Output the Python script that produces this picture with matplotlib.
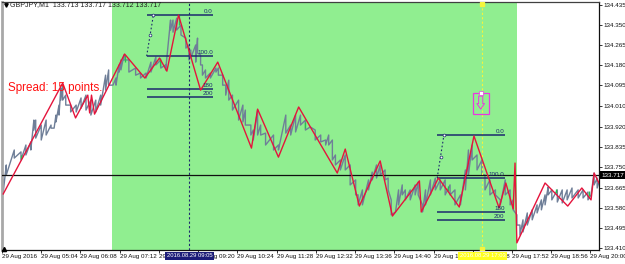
import numpy as np
import matplotlib
matplotlib.use("Agg")
import matplotlib.pyplot as plt
from matplotlib.patches import Rectangle

plt.rcParams['font.family'] = ['Liberation Sans', 'DejaVu Sans']

# Time is minutes after midnight on 29 Aug 2016
bar_minutes = [242, 247, 260, 271, 279, 287, 292, 295, 304, 312, 320, 325, 328, 333, 336, 339, 344, 352, 361, 369,
               377, 385, 393, 401, 409, 414, 421, 426, 431, 434, 439, 447, 458, 466, 475, 483, 491, 499, 507, 515,
               519, 525, 532, 540, 545, 548, 556, 559, 564, 567, 572, 580, 589, 593, 600, 605, 610, 616, 626, 633,
               637, 646, 650, 657, 662, 670, 683, 691, 703, 711, 719, 727, 735, 743, 751, 760, 768, 773, 779, 784,
               792, 800, 808, 817, 821, 828, 838, 844, 851, 857, 865, 870, 875, 882, 887, 893, 898, 906, 914, 919,
               926, 931, 939, 947, 955, 963, 971, 979, 988, 996, 1001, 1007, 1015, 1023, 1028, 1036, 1045, 1053, 1061, 1069,
               1074, 1080, 1085, 1090, 1097, 1105, 1113, 1120, 1126, 1131, 1137, 1146, 1154, 1162, 1170, 1180, 1188, 1196, 1201, 1206,
               1211, 1214]
bar_high = [133.697, 133.760, 133.823, 133.815, 133.844, 133.857, 133.949, 133.949, 133.928, 133.949, 133.928, 133.915, 133.970, 134.012, 134.084, 134.096, 134.054, 134.012, 134.012, 134.042,
            134.054, 134.033, 134.033, 134.054, 134.138, 134.160, 134.096, 134.126, 134.181, 134.202, 134.223, 134.202, 134.168, 134.147, 134.147, 134.193, 134.214, 134.202, 134.181, 134.370,
            134.370, 134.378, 134.349, 134.294, 134.265, 134.244, 134.265, 134.294, 134.223, 134.181, 134.160, 134.147, 134.168, 134.168, 134.138, 134.096, 134.117, 134.054, 134.033, 134.012,
            133.991, 133.928, 133.907, 133.991, 133.928, 133.894, 133.886, 133.844, 133.970, 133.928, 133.970, 133.970, 133.949, 133.920, 133.907, 133.886, 133.865, 133.886, 133.865, 133.802,
            133.781, 133.802, 133.760, 133.697, 133.634, 133.655, 133.697, 133.730, 133.760, 133.760, 133.739, 133.705, 133.613, 133.562, 133.655, 133.676, 133.655, 133.655, 133.676, 133.688,
            133.592, 133.655, 133.697, 133.705, 133.697, 133.697, 133.676, 133.655, 133.634, 133.739, 133.823, 133.844, 133.802, 133.781, 133.718, 133.697, 133.655, 133.613, 133.697, 133.655,
            133.613, 133.550, 133.507, 133.529, 133.558, 133.571, 133.592, 133.613, 133.634, 133.667, 133.655, 133.655, 133.655, 133.655, 133.663, 133.655, 133.655, 133.646, 133.634, 133.726,
            133.705, 133.688]
bar_low = [133.646, 133.718, 133.789, 133.781, 133.802, 133.823, 133.907, 133.873, 133.865, 133.886, 133.915, 133.915, 133.941, 133.970, 134.033, 134.033, 134.012, 133.983, 133.983, 133.999,
           133.991, 133.970, 133.983, 134.012, 134.075, 134.096, 134.096, 134.096, 134.151, 134.160, 134.202, 134.151, 134.138, 134.126, 134.126, 134.151, 134.181, 134.168, 134.160, 134.328,
           134.319, 134.328, 134.307, 134.252, 134.202, 134.210, 134.193, 134.231, 134.181, 134.138, 134.126, 134.126, 134.151, 134.138, 134.096, 134.054, 134.033, 133.991, 133.949, 133.941,
           133.928, 133.886, 133.865, 133.886, 133.886, 133.844, 133.823, 133.823, 133.894, 133.886, 133.899, 133.928, 133.907, 133.920, 133.865, 133.857, 133.844, 133.844, 133.781, 133.760,
           133.739, 133.739, 133.676, 133.634, 133.592, 133.592, 133.655, 133.697, 133.705, 133.718, 133.697, 133.655, 133.550, 133.562, 133.592, 133.634, 133.613, 133.613, 133.634, 133.634,
           133.562, 133.592, 133.634, 133.655, 133.655, 133.634, 133.634, 133.592, 133.592, 133.655, 133.718, 133.781, 133.739, 133.718, 133.655, 133.634, 133.634, 133.592, 133.634, 133.592,
           133.571, 133.507, 133.465, 133.478, 133.507, 133.529, 133.558, 133.571, 133.592, 133.634, 133.613, 133.604, 133.600, 133.613, 133.621, 133.621, 133.621, 133.613, 133.634, 133.676,
           133.663, 133.688]

zigzag_minutes = [242, 339, 360, 380, 383, 386, 391, 440, 473, 497, 509, 528, 564, 592, 647, 657, 691, 724, 787, 800,
                  823, 857, 877, 921, 924, 952, 986, 1010, 1051, 1062, 1074, 1077, 1080, 1126, 1163, 1186, 1201, 1206, 1214]
zigzag_price = [133.638, 134.105, 133.958, 134.054, 133.979, 134.054, 133.974, 134.227, 134.126, 134.210, 134.155, 134.391, 134.075, 134.193, 133.831, 133.995, 133.793, 134.004, 133.726, 133.827,
                133.587, 133.777, 133.545, 133.693, 133.562, 133.705, 133.583, 133.882, 133.579, 133.684, 133.575, 133.768, 133.432, 133.684, 133.587, 133.663, 133.613, 133.726, 133.684]

# short green up bars showing beside the zigzag
green_minutes = [271, 440, 497, 528, 735, 968, 1144, 1198]
green_high = [133.802, 134.223, 134.210, 134.391, 133.940, 133.672, 133.660, 133.650]
green_low = [133.785, 134.193, 134.177, 134.350, 133.915, 133.650, 133.640, 133.630]

tick_minutes = [240, 304, 368, 432, 496, 560, 624, 688, 752, 816, 880, 944, 1008, 1072, 1136, 1200]
tick_labels = ['29 Aug 2016', '29 Aug 05:04', '29 Aug 06:08', '29 Aug 07:12', '29 Aug 08:16', '29 Aug 09:20',
               '29 Aug 10:24', '29 Aug 11:28', '29 Aug 12:32', '29 Aug 13:36', '29 Aug 14:40', '29 Aug 15:44',
               '29 Aug 16:48', '29 Aug 17:52', '29 Aug 18:56', '29 Aug 20:00']
price_ticks = [134.435, 134.350, 134.265, 134.180, 134.095, 134.010, 133.920, 133.835, 133.750, 133.665, 133.580, 133.495, 133.410]

last_price = 133.717
session_minutes = [420, 1080]

fib_names = ['0.0', '100.0', '180', '200']
fib_a_minutes = [476, 585]
fib_a_levels = [134.391, 134.218, 134.080, 134.046]
fib_b_minutes = [950, 1061]
fib_b_levels = [133.886, 133.705, 133.562, 133.529]
fib_a_anchor = [[476, 487], [134.218, 134.391]]
fib_a_mid = [482, 134.307]
fib_b_anchor = [[950, 961], [133.705, 133.886]]
fib_b_mid = [956, 133.794]

cursor_a = 545
cursor_b = 1023

navy = '#1c2a6e'
slate = '#6f7f98'
red = '#e4143c'

fig = plt.figure(figsize=(6.25, 2.64), dpi=100, facecolor='white')
ax = fig.add_axes([2 / 625, 14 / 264, 597 / 625, 248 / 264])
ax.set_xlim(242, 1214)
ax.set_ylim(133.402, 134.446)

# session background
ax.axvspan(session_minutes[0], session_minutes[1], color='#90ee90', lw=0, zorder=0)

# price path as high/low strokes, red zigzag over it
path_t = np.repeat(bar_minutes, 2)
path_p = np.column_stack([bar_high, bar_low]).ravel()
ax.plot(path_t, path_p, color=slate, lw=1.0, zorder=2)
ax.vlines(green_minutes, green_low, green_high, color='#22c84a', lw=0.9, zorder=2.5)
ax.plot(zigzag_minutes, zigzag_price, color=red, lw=1.0, zorder=4)

ax.axhline(last_price, color='#101010', lw=0.9, zorder=3)
ax.axvline(cursor_a, color=navy, lw=0.8, ls=(0, (2, 2)), zorder=3)
ax.axvline(cursor_b, color='#f4f43c', lw=0.8, ls=(0, (2, 2)), zorder=3)
ax.plot([cursor_b, cursor_b], [134.438, 133.408], ls='none', marker='s', ms=2.5, color='#f4f43c', zorder=3)

# fibonacci levels
for span, levels, anchor, mid in [(fib_a_minutes, fib_a_levels, fib_a_anchor, fib_a_mid),
                                  (fib_b_minutes, fib_b_levels, fib_b_anchor, fib_b_mid)]:
    ax.hlines(levels, span[0], span[1], color=navy, lw=1.1, zorder=3)
    for name, level in zip(fib_names, levels):
        ax.text(span[1] - 1, level + 0.004, name, fontsize=4.5, color=navy, ha='right', va='bottom', zorder=5)
    ax.plot(anchor[0], anchor[1], color=navy, lw=0.8, ls=(0, (1.5, 2)), zorder=3)
    ax.plot(anchor[0][1], anchor[1][1], marker='o', ms=2, mfc='white', mec=navy, mew=0.5, zorder=5)
    ax.plot(mid[0], mid[1], marker='o', ms=2, mfc='white', mec=navy, mew=0.5, zorder=5)

# sell signal box
ax.add_patch(Rectangle((1009, 133.974), 26, 0.089, fc='none', ec='#e838e0', lw=0.9, zorder=5))
ax.annotate('', xy=(1021, 133.995), xytext=(1021, 134.050), zorder=5,
            arrowprops=dict(arrowstyle='simple,head_width=0.55,head_length=0.4,tail_width=0.3',
                            fc='#90ee90', ec='#e838e0', lw=0.7, shrinkA=0, shrinkB=0))
ax.plot(1021, 134.063, marker='s', ms=2.5, mfc='white', mec='#e838e0', mew=0.5, zorder=6)

ax.text(6 / 597, 1 - 86 / 248, 'Spread: 15 points.', transform=ax.transAxes, color='#ff1010',
        fontsize=8.4, ha='left', va='center', zorder=6)
ax.text(8 / 597, 1 - 3 / 248, 'GBPJPY,M1  133.713 133.717 133.712 133.717', transform=ax.transAxes,
        color='#202020', fontsize=5, ha='left', va='center', zorder=6)
ax.plot(4 / 597, 1 - 3 / 248, transform=ax.transAxes, marker='v', ms=2.5, color='black', zorder=6)
ax.plot(2 / 597, 1 / 248, transform=ax.transAxes, marker='^', ms=3, color='black', zorder=6, clip_on=False)

ax.set_xticks(tick_minutes, tick_labels, ha='left')
ax.xaxis.set_ticks_position('bottom')
ax.yaxis.set_ticks_position('right')
ax.set_yticks(price_ticks, [f'{p:.3f}' for p in price_ticks])
ax.tick_params(axis='x', labelsize=4.5, length=2, width=0.6, pad=1, colors='#101010')
ax.tick_params(axis='y', labelsize=4.5, length=2, width=0.6, pad=1.5, colors='#101010')

# crosshair date tags sit over the time axis
date_tag = ax.get_xaxis_transform()
ax.text(cursor_a - 36, -0.024, '2016.08.29 09:05', transform=date_tag, fontsize=4.2, color='white', ha='left', va='center',
        zorder=7, clip_on=False, bbox=dict(fc='#1c1c78', ec='none', pad=1))
ax.text(cursor_b - 36, -0.024, '2016.08.29 17:03', transform=date_tag, fontsize=4.2, color='white', ha='left', va='center',
        zorder=7, clip_on=False, bbox=dict(fc='#ffff20', ec='none', pad=1))
ax.text(1.004, last_price, f'{last_price:.3f}', transform=ax.get_yaxis_transform(), fontsize=4.5, color='white',
        ha='left', va='center', zorder=7, clip_on=False, bbox=dict(fc='black', ec='none', pad=1))

for side in ['left', 'right', 'top', 'bottom']:
    ax.spines[side].set_linewidth(0.9)
    ax.spines[side].set_color('#101010')
ax.spines['left'].set_color('#a8a8a8')
ax.spines['left'].set_linewidth(2)
ax.spines['top'].set_color('#404040')

fig.savefig('out.png', dpi=100)
